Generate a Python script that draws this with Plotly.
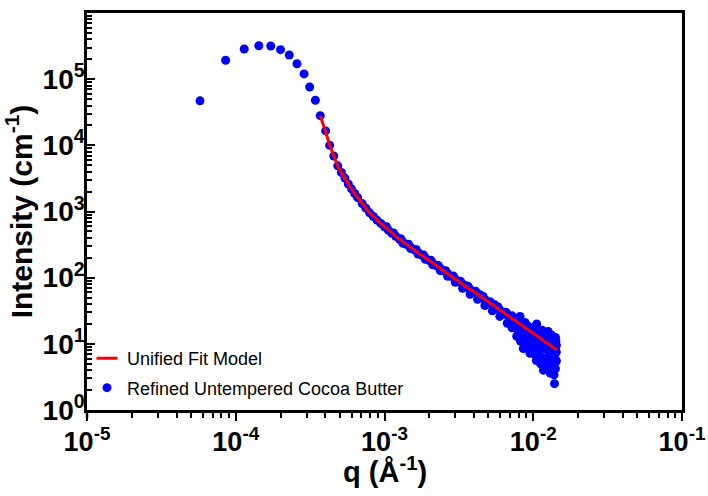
import plotly.graph_objects as go

# ---- data ----
# first, well separated points (peak region)
q_peak = [5.75e-5, 8.55e-5, 1.14e-4, 1.43e-4, 1.72e-4, 2.00e-4, 2.29e-4, 2.58e-4,
          2.88e-4, 3.14e-4, 3.43e-4, 3.70e-4, 4.02e-4, 4.28e-4, 4.56e-4, 4.85e-4,
          5.13e-4, 5.42e-4, 5.71e-4, 6.00e-4, 6.30e-4, 6.60e-4]
i_peak = [4.7e4, 1.93e5, 2.86e5, 3.2e5, 3.17e5, 2.79e5, 2.32e5, 1.71e5,
          1.20e5, 7.6e4, 4.8e4, 2.81e4, 1.65e4, 1.0e4, 6.9e3, 4.9e3,
          3.9e3, 3.2e3, 2.6e3, 2.2e3, 1.87e3, 1.62e3]

# dense band of data points
q_band = [7.08e-4, 7.50e-4, 7.94e-4, 8.41e-4, 8.91e-4, 9.44e-4, 1.00e-3, 1.06e-3,
          1.12e-3, 1.19e-3, 1.26e-3, 1.33e-3, 1.41e-3, 1.50e-3, 1.58e-3, 1.68e-3,
          1.78e-3, 1.88e-3, 2.00e-3, 2.11e-3, 2.24e-3, 2.37e-3, 2.51e-3, 2.66e-3,
          2.82e-3, 2.99e-3, 3.16e-3, 3.35e-3, 3.55e-3, 3.76e-3, 3.98e-3, 4.22e-3,
          4.47e-3, 4.73e-3, 5.01e-3, 5.31e-3, 5.62e-3, 5.96e-3, 6.31e-3, 6.68e-3,
          7.08e-3, 7.50e-3, 7.94e-3, 8.41e-3, 8.91e-3, 9.44e-3, 1.00e-2, 1.06e-2,
          1.12e-2, 1.19e-2, 1.26e-2, 1.33e-2, 1.41e-2]
i_band = [1318, 1122, 955, 841, 741, 661, 589, 525,
          468, 422, 380, 347, 316, 288, 263, 240,
          219, 200, 182, 166, 151, 138, 126, 115,
          105, 95.5, 87.1, 79.4, 72.4, 66.8, 61.7, 56.2,
          51.3, 46.8, 42.7, 38.9, 35.5, 32.4, 29.5, 26.9,
          24.5, 22.4, 20.4, 18.8, 17.4, 15.8, 14.5, 13.2,
          12.0, 11.0, 10.0, 9.1, 8.3]

# points slightly above the band centre
q_up = [1.03e-3, 1.15e-3, 1.29e-3, 1.45e-3, 1.63e-3, 1.83e-3, 2.05e-3, 2.30e-3,
        2.58e-3, 2.90e-3, 3.25e-3, 3.65e-3, 4.10e-3, 4.60e-3, 5.15e-3, 5.80e-3,
        6.50e-3]
i_up = [590, 473, 386, 321, 266, 221, 184, 153,
        127, 106, 88, 74, 62.5, 52, 43, 36,
        30]

# points scattered below the band
q_low = [1.33e-3, 1.50e-3, 1.68e-3, 1.88e-3, 2.11e-3, 2.37e-3, 2.66e-3, 2.99e-3,
         3.35e-3, 3.76e-3, 4.22e-3, 4.73e-3, 5.31e-3, 5.96e-3, 6.68e-3, 7.20e-3,
         7.74e-3, 8.20e-3, 8.57e-3, 9.00e-3, 9.50e-3, 1.00e-2, 1.05e-2, 1.10e-2,
         1.12e-2, 1.17e-2, 1.20e-2, 1.25e-2, 1.28e-2, 1.30e-2, 1.33e-2, 1.35e-2,
         1.37e-2, 1.39e-2, 1.40e-2, 1.41e-2, 1.42e-2, 1.43e-2]
i_low = [330, 275, 228, 190, 157, 128, 105, 85,
         69, 56, 47, 38, 31.5, 26, 20.5, 17.5,
         13, 11, 8.5, 10.5, 7.2, 9, 5.6, 7.5,
         5, 4.0, 6, 8, 4.6, 3.6, 6.5, 5,
         9, 2.5, 6, 4.2, 11, 7.5]

# points filling the scattered tail
q_tail = [7.0e-3, 7.4e-3, 7.9e-3, 8.3e-3, 8.6e-3, 8.9e-3, 9.2e-3, 9.4e-3,
          9.7e-3, 9.9e-3, 1.02e-2, 1.04e-2, 1.07e-2, 1.09e-2, 1.11e-2, 1.14e-2,
          1.16e-2, 1.18e-2, 1.21e-2, 1.23e-2, 1.24e-2, 1.27e-2, 1.29e-2, 1.31e-2,
          1.32e-2, 1.34e-2, 1.36e-2, 1.38e-2, 1.38e-2, 1.40e-2, 1.41e-2, 1.42e-2,
          1.43e-2, 1.43e-2]
i_tail = [21, 18.5, 16, 14, 12, 14.5, 9.5, 12.5,
          8.2, 11.5, 7, 10, 6.5, 11.5, 8.5, 6.2,
          10, 5, 9.5, 5.3, 11.5, 6.5, 10.5, 5.5,
          8.5, 4.2, 7, 3.4, 10, 8, 12.5, 5.5,
          9.5, 5.5]

# points scattered above the band
q_high = [3.5e-3, 4.4e-3, 5.5e-3, 6.6e-3, 7.2e-3, 8.15e-3, 8.8e-3, 9.1e-3,
          1.0e-2, 1.055e-2, 1.1e-2, 1.15e-2, 1.22e-2, 1.26e-2, 1.3e-2, 1.33e-2,
          1.37e-2, 1.42e-2]
i_high = [76, 55, 39, 29.5, 26.5, 26, 21, 19,
          17.5, 20, 15, 16, 14, 15.4, 12.5, 13.5,
          11.5, 9.5]

# unified fit model curve
q_fit = [3.70e-4, 3.85e-4, 4.02e-4, 4.15e-4, 4.28e-4, 4.42e-4, 4.56e-4, 4.70e-4,
         4.85e-4, 5.13e-4, 5.42e-4, 5.71e-4, 6.00e-4, 6.31e-4, 6.61e-4, 7.08e-4,
         7.94e-4, 8.91e-4, 1.00e-3, 1.12e-3, 1.26e-3, 1.41e-3, 1.58e-3, 1.78e-3,
         2.00e-3, 2.24e-3, 2.51e-3, 2.82e-3, 3.16e-3, 3.55e-3, 3.98e-3, 4.47e-3,
         5.01e-3, 5.62e-3, 6.31e-3, 7.08e-3, 7.94e-3, 8.91e-3, 1.00e-2, 1.12e-2,
         1.26e-2, 1.41e-2, 1.44e-2]
i_fit = [2.8e4, 2.15e4, 1.65e4, 1.28e4, 1.0e4, 8.3e3, 6.9e3, 5.8e3,
         4.9e3, 3.9e3, 3.15e3, 2.6e3, 2.2e3, 1.87e3, 1.62e3, 1318,
         955, 741, 589, 468, 380, 316, 263, 219,
         182, 151, 126, 105, 87.1, 72.4, 61.7, 51.3,
         42.7, 35.5, 29.5, 24.5, 20.4, 17.4, 14.5, 12.0,
         10.0, 8.3, 8.1]

x_tickvals = [1e-5, 1e-4, 1e-3, 1e-2, 1e-1]
x_ticktext = ["10<sup>-5</sup>", "10<sup>-4</sup>", "10<sup>-3</sup>", "10<sup>-2</sup>", "10<sup>-1</sup>"]
y_tickvals = [1, 10, 100, 1e3, 1e4, 1e5, 1e6]
y_ticktext = ["10<sup>0</sup>", "10<sup>1</sup>", "10<sup>2</sup>", "10<sup>3</sup>",
              "10<sup>4</sup>", "10<sup>5</sup>", "10<sup>6</sup>"]

x_minor = [m * 10.0 ** e for e in (-5, -4, -3, -2) for m in range(2, 10)]
y_minor = [m * 10.0 ** e for e in range(0, 6) for m in range(2, 10)]

q_data = q_peak + q_band + q_up + q_low + q_tail + q_high
i_data = i_peak + i_band + i_up + i_low + i_tail + i_high

FONT = "Liberation Sans, Arial, sans-serif"

fig = go.Figure()
fig.add_trace(go.Scatter(
    x=q_data, y=i_data, mode="markers",
    name="Refined Untempered Cocoa Butter",
    marker=dict(color="#0000ff", size=9, line=dict(width=0)),
    legendgroup="b", legendrank=2,
))
fig.add_trace(go.Scatter(
    x=q_fit, y=i_fit, mode="lines",
    name="Unified Fit Model",
    line=dict(color="#ff0000", width=3),
    legendgroup="a", showlegend=False,
))
# legend entry for the fit line (short red dash, as in the reference)
fig.add_trace(go.Scatter(
    x=[None], y=[None], mode="markers",
    name="Unified Fit Model",
    marker=dict(symbol="line-ew", size=15, color="#ff0000",
                line=dict(color="#ff0000", width=3)),
    legendgroup="a", legendrank=1,
))

axis_common = dict(
    showgrid=False, zeroline=False,
    showline=True, linecolor="black", linewidth=2.5,
    mirror=True,
    tickcolor="black", tickwidth=2,
    automargin=False,
)

fig.update_xaxes(
    type="log", range=[-5, -1],
    tickmode="array", tickvals=x_tickvals, ticktext=x_ticktext,
    ticks="outside", ticklen=8,
    ticklabelstandoff=-2,
    tickfont=dict(family=FONT, size=27, color="black", weight="bold"),
    minor=dict(ticks="outside", ticklen=5, tickwidth=2, tickcolor="black",
               tickmode="array", tickvals=x_minor, showgrid=False),
    **axis_common,
)
fig.update_yaxes(
    type="log", range=[0, 6],
    tickmode="array", tickvals=y_tickvals, ticktext=y_ticktext,
    ticks="inside", ticklen=8,
    ticklabelstandoff=-6,
    tickfont=dict(family=FONT, size=28, color="black", weight="bold"),
    minor=dict(ticks="inside", ticklen=5, tickwidth=1.5, tickcolor="black",
               tickmode="array", tickvals=y_minor, showgrid=False),
    title=dict(text="Intensity (cm<sup>-1</sup>)", font=dict(family=FONT, size=30, color="black", weight="bold"), standoff=8),
    **axis_common,
)

# x-axis title placed as an annotation so it stays fully inside the canvas
fig.add_annotation(
    text="q (Å<sup>-1</sup>)", xref="paper", yref="paper",
    x=0.5, y=-0.151, xanchor="center", yanchor="middle", showarrow=False,
    font=dict(family=FONT, size=29, color="black", weight="bold"),
)

fig.add_shape(type="line", xref="paper", yref="paper",
              x0=0, x1=0, y0=0, y1=-0.02,
              line=dict(color="black", width=2.5))

fig.update_layout(
    width=708, height=496,
    margin=dict(l=87, r=26, t=13, b=86),
    paper_bgcolor="white", plot_bgcolor="white",
    showlegend=True,
    legend=dict(
        x=0.0, y=0.01, xanchor="left", yanchor="bottom",
        traceorder="grouped", tracegroupgap=3,
        font=dict(family=FONT, size=18, color="black"),
        bgcolor="rgba(0,0,0,0)",
    ),
)

fig.write_html("out.html")
